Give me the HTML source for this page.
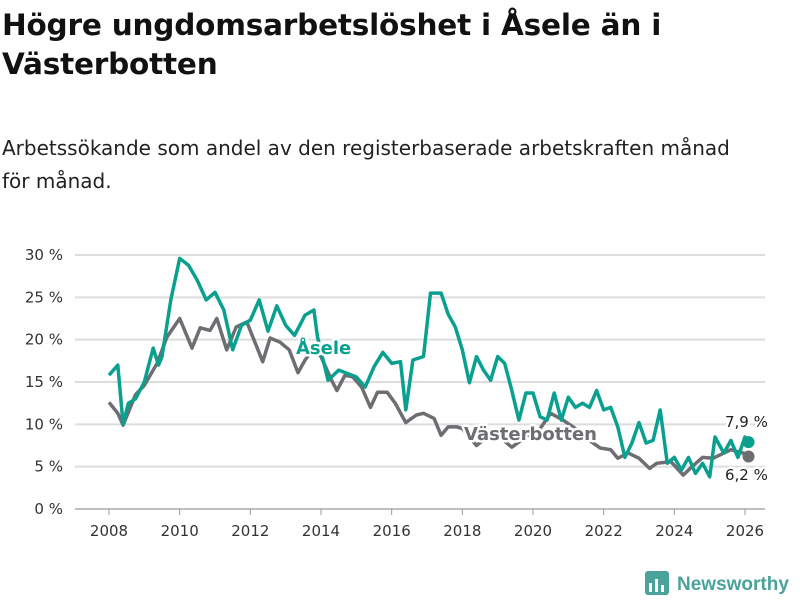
<!DOCTYPE html>
<html><head><meta charset="utf-8"><style>
body{margin:0;background:#fff;font-family:"Liberation Sans","DejaVu Sans",sans-serif;}
#wrap{position:relative;width:800px;height:600px;overflow:hidden}
h1{position:absolute;left:2px;top:6px;margin:0;font-size:29.5px;line-height:39px;font-weight:bold;color:#111;font-family:"DejaVu Sans","Liberation Sans",sans-serif;letter-spacing:-0.2px}
p{position:absolute;left:2px;top:132px;margin:0;font-size:20px;line-height:33px;color:#222;font-family:"DejaVu Sans","Liberation Sans",sans-serif;width:755px}
svg{position:absolute;left:0;top:0}
</style></head><body><div id="wrap">
<h1>Högre ungdomsarbetslöshet i Åsele än i<br>Västerbotten</h1>
<p>Arbetssökande som andel av den registerbaserade arbetskraften månad för månad.</p>
<svg id="chart" width="800" height="600"></svg>
</div>
<script>
const yTicks=[0,5,10,15,20,25,30];
const xTicks=[2008,2010,2012,2014,2016,2018,2020,2022,2024,2026];
const aseleT=[2008,2008.25,2008.4,2008.55,2008.75,2009,2009.25,2009.4,2009.5,2009.75,2010,2010.25,2010.5,2010.75,2011,2011.25,2011.5,2011.75,2012,2012.25,2012.5,2012.75,2013,2013.25,2013.55,2013.8,2013.9,2014.2,2014.5,2015,2015.25,2015.5,2015.75,2016,2016.25,2016.4,2016.6,2016.9,2017.1,2017.4,2017.6,2017.8,2018,2018.2,2018.4,2018.6,2018.8,2019,2019.2,2019.4,2019.6,2019.8,2020,2020.2,2020.4,2020.6,2020.8,2021,2021.2,2021.4,2021.6,2021.8,2022,2022.2,2022.4,2022.6,2022.8,2023,2023.2,2023.4,2023.6,2023.8,2024,2024.2,2024.4,2024.6,2024.8,2025,2025.15,2025.4,2025.6,2025.8,2026,2026.1];
const aseleV=[15.8,17,10,12.5,13,15,19,17,18,24.7,29.6,28.8,27,24.7,25.6,23.5,18.8,21.7,22.3,24.7,21,24,21.7,20.5,22.9,23.5,20.3,15.2,16.4,15.6,14.4,16.8,18.5,17.2,17.4,11.7,17.6,18,25.5,25.5,23,21.5,18.8,14.9,18,16.4,15.2,18,17.2,14,10.5,13.7,13.7,10.9,10.5,13.7,10.5,13.2,12,12.5,12,14,11.7,12,9.7,6.1,7.8,10.2,7.8,8.1,11.7,5.4,6.1,4.6,6.1,4.2,5.4,3.8,8.5,6.6,8.1,6.1,8.5,7.9];
const vbT=[2008,2008.25,2008.4,2008.75,2009,2009.36,2009.64,2010,2010.35,2010.58,2010.86,2011.05,2011.33,2011.6,2011.9,2012.1,2012.35,2012.56,2012.84,2013.1,2013.35,2013.55,2013.8,2014,2014.3,2014.45,2014.68,2014.9,2015.15,2015.4,2015.6,2015.87,2016.1,2016.4,2016.7,2016.9,2017.2,2017.4,2017.6,2017.85,2018,2018.4,2018.7,2019,2019.4,2019.8,2020.2,2020.5,2020.85,2021.2,2021.6,2021.9,2022.2,2022.4,2022.7,2023,2023.3,2023.5,2023.9,2024.25,2024.5,2024.8,2025.1,2025.6,2025.95,2026.1];
const vbV=[12.6,11.3,9.9,13.5,14.6,17.2,20.3,22.5,19,21.4,21.1,22.5,18.8,21.5,22.1,20,17.4,20.2,19.7,18.8,16.1,17.6,19,18,15.2,14,15.8,15.6,14.4,12,13.8,13.8,12.5,10.2,11.1,11.3,10.7,8.7,9.7,9.7,9.5,7.5,8.5,8.7,7.3,8.5,9.5,11.3,10.5,9.5,8.1,7.2,7,6,6.6,6,4.8,5.4,5.6,4,5,6.1,6,7,6.6,6.2];
const svg=document.getElementById('chart');const NS='http://www.w3.org/2000/svg';
const X=t=>109+(t-2008)*(745-109)/18;
const Y=v=>509-v*(509-255)/30;
function mk(tag,at,parent){const e=document.createElementNS(NS,tag);for(const k in at)e.setAttribute(k,at[k]);(parent||svg).appendChild(e);return e;}
yTicks.forEach(v=>{
 const g=mk('line',{x1:75,x2:765,y1:Y(v),y2:Y(v),stroke:v===0?'#999':'#ddd','stroke-width':v===0?1.2:2});
 
 
 const t=mk('text',{x:63,y:Y(v)+5,'text-anchor':'end','font-size':15,fill:'#333','font-family':'DejaVu Sans, Liberation Sans, sans-serif'});t.textContent=v+' %';
 
 
});
xTicks.forEach(v=>{
 const l=mk('line',{x1:X(v),x2:X(v),y1:509,y2:515,stroke:'#999'});
 
 
 const t=mk('text',{x:X(v),y:536,'text-anchor':'middle','font-size':15,fill:'#333','font-family':'DejaVu Sans, Liberation Sans, sans-serif'});t.textContent=v;
 
 
});
function line(T,V,c,name){const d=T.map((t,i)=>(i?'L':'M')+X(t).toFixed(1)+','+Y(V[i]).toFixed(1)).join('');
 const p=mk('path',{d:d,fill:'none',stroke:c,'stroke-width':3.5,'stroke-linejoin':'round'});
 
 
 const n=T.length-1;const c2=mk('circle',{cx:X(T[n]),cy:Y(V[n]),r:6,fill:c});
 
 }
line(vbT,vbV,'#6d6d72','vasterbotten-line');
line(aseleT,aseleV,'#0aa090','asele-line');
function lab(x,y,s,c,fs,w,name){const t=mk('text',{x:x,y:y,'font-size':fs,'font-weight':w,fill:c,stroke:'#fff','stroke-width':5,'paint-order':'stroke','stroke-linejoin':'round','font-family':'DejaVu Sans, Liberation Sans, sans-serif'});t.textContent=s;
 
 }
lab(296,354,'Åsele','#0aa090',18,'bold','asele-label');
lab(464,440,'Västerbotten','#6d6d72',18,'bold','vasterbotten-label');
lab(725,427,'7,9 %','#222',15,'normal','asele-end-value');
lab(725,480,'6,2 %','#222',15,'normal','vasterbotten-end-value');
const lg=mk('g',{});
mk('rect',{x:645,y:571,width:24,height:24,rx:3,fill:'#4aa39a'},lg);
mk('rect',{x:649,y:583,width:3,height:9,fill:'#fff'},lg);mk('rect',{x:655,y:579,width:3,height:13,fill:'#fff'},lg);mk('rect',{x:661,y:585,width:3,height:7,fill:'#fff'},lg);
const lt=mk('text',{x:677,y:590,'font-size':19,'font-weight':'bold',fill:'#4aa39a','font-family':'Liberation Sans, sans-serif'},lg);lt.textContent='Newsworthy';
</script></body></html>
